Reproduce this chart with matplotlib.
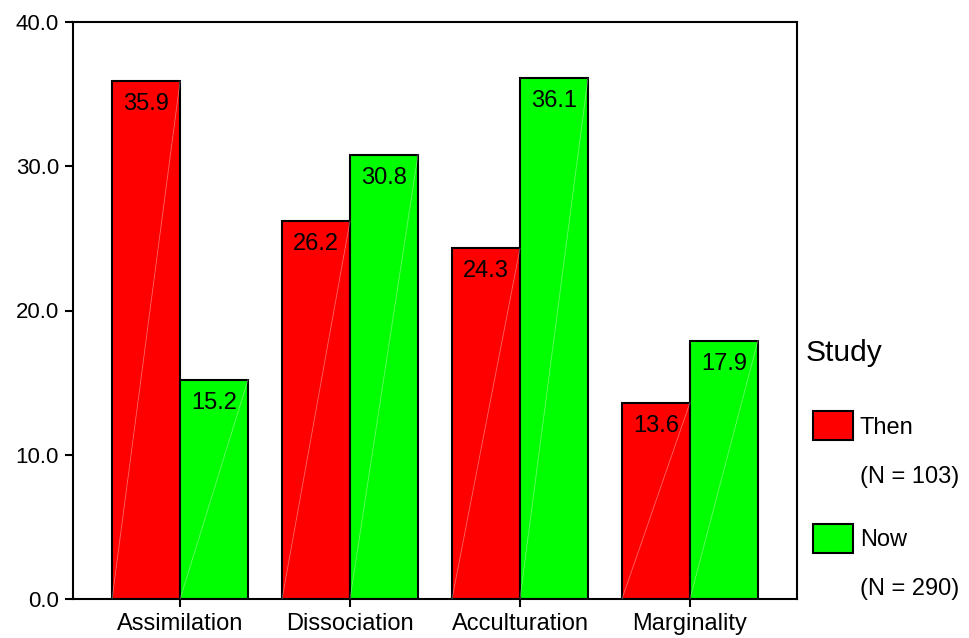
import matplotlib
matplotlib.use('Agg')
import matplotlib.pyplot as plt
from matplotlib.patches import Rectangle
import numpy as np

categories = ['Assimilation', 'Dissociation', 'Acculturation', 'Marginality']
then_pct = [35.9, 26.2, 24.3, 13.6]
now_pct = [15.2, 30.8, 36.1, 17.9]
series = [('Then', '(N = 103)', then_pct, '#ff0000'),
          ('Now', '(N = 290)', now_pct, '#00ff00')]

plt.rcParams['font.family'] = ['Liberation Sans', 'DejaVu Sans']

fig = plt.figure(figsize=(9.69, 6.38), dpi=100)
ax = fig.add_axes([73 / 969, 1 - 599 / 638, 724 / 969, 577 / 638])

x = np.arange(len(categories))
w = 0.4
for k, (name, n, vals, col) in enumerate(series):
    xs = x + (k - 0.5) * w
    ax.bar(xs, vals, width=w, color=col, edgecolor='black', linewidth=1.5, zorder=2)
    for xi, v in zip(xs, vals):
        # faint diagonal highlight across each bar
        ax.plot([xi - w / 2, xi + w / 2], [0, v], color='white', lw=0.6, alpha=0.4, zorder=3)
        ax.annotate(f'{v:.1f}', (xi, v), xytext=(0, -8.5), textcoords='offset points',
                    ha='center', va='top', fontsize=17, zorder=4)

ax.set_xlim(-0.63, len(categories) - 1 + 0.63)
ax.set_ylim(0, 40)
ax.set_yticks([0, 10, 20, 30, 40])
ax.set_yticklabels([f'{t:.1f}' for t in [0, 10, 20, 30, 40]], fontsize=16)
ax.set_xticks(x)
ax.set_xticklabels(categories, fontsize=17)
ax.tick_params(axis='both', length=6, width=1.5, pad=4)
for s in ax.spines.values():
    s.set_linewidth(1.5)

# legend drawn by hand in pixel positions
W, H = 969, 638
fig.text(806 / W, 1 - 353 / H, 'Study', fontsize=21.5, va='center', ha='left')
for k, (name, n, vals, col) in enumerate(series):
    top = 411 + k * 112.5
    fig.add_artist(Rectangle((813 / W, 1 - (top + 29) / H), 40 / W, 29 / H,
                             transform=fig.transFigure, facecolor=col,
                             edgecolor='black', linewidth=1.5))
    fig.text(860 / W, 1 - (top + 17) / H, name, fontsize=17, va='center', ha='left')
    fig.text(860 / W, 1 - (top + 66) / H, n, fontsize=17, va='center', ha='left')

fig.savefig('out.png', dpi=100)
